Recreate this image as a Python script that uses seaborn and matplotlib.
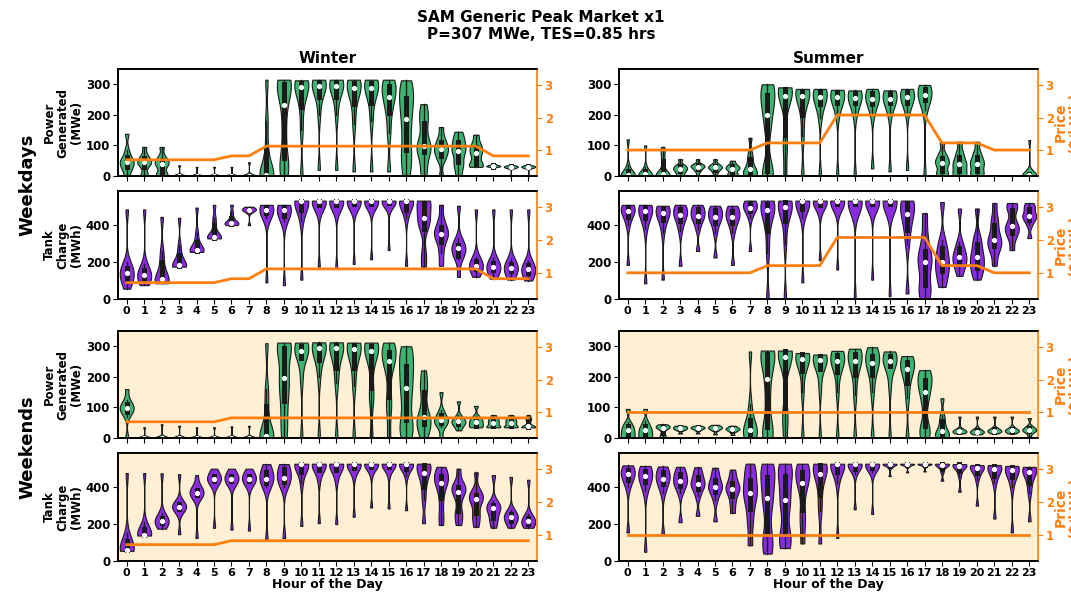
import numpy as np
import pandas as pd
import matplotlib
matplotlib.use("Agg")
import matplotlib.pyplot as plt
import seaborn as sns

# ---------------- data ----------------
hours = list(range(24))

# each violin: nine sample values [min, p12.5, q1, p37.5, median, p62.5, q3, p87.5, max]
wd_winter_power = [
    [0, 20, 30, 40, 46, 52, 62, 85, 138],
    [0, 5, 30, 40, 45, 50, 58, 70, 95],
    [0, 0, 10, 30, 40, 45, 52, 65, 95],
    [0, 0, 0, 0, 0, 0, 0, 2, 35],
    [0, 0, 0, 0, 0, 0, 0, 2, 30],
    [0, 0, 0, 0, 0, 0, 0, 2, 30],
    [0, 0, 0, 0, 0, 0, 0, 2, 30],
    [0, 0, 0, 0, 0, 0, 0, 2, 45],
    [0, 0, 0, 0, 3, 20, 90, 180, 315],
    [0, 30, 60, 150, 232, 280, 300, 310, 315],
    [0, 150, 225, 270, 290, 298, 305, 310, 313],
    [20, 200, 260, 285, 295, 302, 308, 312, 315],
    [20, 200, 258, 285, 295, 302, 308, 312, 315],
    [15, 170, 235, 270, 288, 298, 305, 311, 315],
    [15, 180, 240, 272, 288, 298, 305, 311, 315],
    [15, 140, 205, 240, 260, 280, 295, 308, 315],
    [0, 50, 85, 140, 185, 225, 255, 285, 313],
    [0, 40, 80, 90, 98, 130, 175, 200, 235],
    [0, 50, 65, 80, 87, 95, 110, 125, 160],
    [0, 30, 45, 70, 83, 95, 110, 125, 145],
    [30, 35, 38, 60, 75, 85, 95, 110, 135],
    [25, 30, 31, 32, 33, 34, 35, 37, 40],
    [0, 27, 28, 29, 30, 31, 32, 33, 35],
    [0, 27, 28, 29, 30, 31, 32, 33, 35],
]
wd_winter_tank = [
    [56, 90, 110, 128, 142, 155, 170, 200, 485],
    [75, 100, 112, 122, 130, 140, 155, 190, 485],
    [85, 92, 100, 104, 108, 140, 200, 260, 445],
    [175, 178, 180, 180, 182, 200, 240, 290, 440],
    [255, 258, 260, 262, 265, 280, 310, 360, 495],
    [328, 330, 333, 335, 338, 360, 400, 440, 510],
    [400, 405, 408, 410, 412, 425, 440, 470, 510],
    [400, 470, 478, 482, 484, 486, 490, 495, 500],
    [90, 440, 465, 478, 484, 490, 498, 505, 510],
    [75, 420, 450, 470, 480, 490, 500, 505, 510],
    [105, 420, 480, 515, 530, 532, 533, 533, 533],
    [175, 470, 510, 525, 532, 533, 533, 533, 533],
    [165, 470, 510, 525, 532, 533, 533, 533, 533],
    [190, 480, 515, 527, 532, 533, 533, 533, 533],
    [215, 485, 515, 527, 532, 533, 533, 533, 533],
    [265, 495, 520, 530, 533, 533, 533, 533, 533],
    [180, 440, 480, 515, 530, 533, 533, 533, 533],
    [175, 250, 380, 415, 438, 470, 520, 533, 533],
    [180, 250, 310, 335, 353, 370, 390, 430, 510],
    [120, 215, 235, 260, 275, 285, 295, 330, 505],
    [120, 150, 165, 175, 180, 190, 205, 230, 485],
    [110, 140, 155, 168, 175, 183, 195, 220, 485],
    [105, 135, 150, 163, 170, 178, 190, 215, 485],
    [100, 125, 142, 153, 160, 170, 182, 205, 485],
]
wd_summer_power = [
    [0, 0, 0, 2, 3, 8, 15, 35, 120],
    [0, 0, 1, 3, 5, 8, 15, 30, 100],
    [0, 0, 1, 3, 5, 20, 50, 75, 95],
    [0, 8, 15, 20, 24, 28, 32, 38, 55],
    [0, 15, 22, 28, 31, 33, 36, 40, 55],
    [0, 12, 20, 25, 28, 31, 34, 40, 55],
    [0, 5, 10, 20, 24, 28, 32, 38, 50],
    [0, 3, 8, 15, 22, 35, 55, 75, 125],
    [0, 5, 15, 150, 200, 240, 265, 285, 300],
    [0, 80, 135, 230, 262, 275, 285, 288, 290],
    [0, 130, 200, 245, 262, 270, 278, 283, 285],
    [0, 190, 235, 250, 258, 268, 278, 283, 285],
    [0, 200, 240, 252, 258, 266, 275, 280, 282],
    [0, 200, 240, 250, 256, 264, 272, 278, 280],
    [25, 200, 235, 247, 252, 262, 272, 280, 285],
    [15, 200, 238, 247, 252, 260, 270, 277, 280],
    [20, 210, 240, 252, 258, 266, 275, 282, 285],
    [0, 215, 248, 258, 265, 275, 285, 292, 298],
    [0, 5, 15, 35, 42, 50, 60, 75, 110],
    [0, 5, 15, 30, 38, 48, 62, 80, 112],
    [0, 5, 15, 32, 40, 50, 62, 80, 112],
    [0, 0, 0, 0, 0, 0, 0, 1, 3],
    [0, 0, 0, 0, 0, 0, 0, 1, 3],
    [0, 0, 1, 2, 3, 4, 5, 8, 118],
]
wd_summer_tank = [
    [185, 400, 445, 465, 478, 488, 497, 505, 510],
    [85, 380, 440, 462, 478, 488, 497, 505, 510],
    [105, 360, 430, 452, 464, 478, 492, 500, 505],
    [180, 370, 420, 445, 456, 470, 490, 502, 510],
    [260, 380, 420, 440, 451, 465, 485, 500, 510],
    [225, 360, 410, 432, 444, 458, 480, 495, 505],
    [185, 360, 410, 432, 444, 458, 478, 493, 505],
    [260, 440, 478, 490, 495, 505, 520, 530, 533],
    [0, 250, 370, 450, 480, 495, 515, 528, 533],
    [0, 300, 420, 480, 496, 510, 525, 530, 533],
    [90, 440, 490, 515, 530, 533, 533, 533, 533],
    [210, 470, 510, 525, 532, 533, 533, 533, 533],
    [160, 480, 515, 527, 532, 533, 533, 533, 533],
    [0, 480, 515, 527, 532, 533, 533, 533, 533],
    [105, 485, 517, 528, 532, 533, 533, 533, 533],
    [15, 485, 517, 528, 532, 533, 533, 533, 533],
    [30, 300, 375, 430, 460, 490, 520, 533, 533],
    [0, 40, 75, 150, 198, 230, 260, 350, 465],
    [65, 110, 150, 180, 202, 235, 275, 320, 525],
    [125, 165, 195, 212, 225, 245, 275, 310, 490],
    [105, 150, 170, 205, 225, 255, 300, 340, 490],
    [180, 250, 285, 305, 320, 350, 400, 440, 520],
    [265, 330, 360, 380, 393, 420, 480, 505, 520],
    [330, 400, 430, 442, 451, 465, 490, 505, 520],
]
we_winter_power = [
    [0, 70, 85, 93, 98, 103, 110, 125, 160],
    [0, 0, 0, 0, 0, 0, 0, 2, 35],
    [0, 0, 0, 0, 0, 0, 0, 2, 45],
    [0, 0, 0, 0, 0, 0, 0, 2, 40],
    [0, 0, 0, 0, 0, 0, 0, 2, 35],
    [0, 0, 0, 0, 0, 0, 0, 2, 35],
    [0, 0, 0, 0, 0, 0, 0, 2, 38],
    [0, 0, 0, 0, 0, 0, 0, 2, 40],
    [0, 0, 0, 2, 5, 30, 105, 160, 310],
    [0, 60, 120, 170, 196, 250, 295, 308, 312],
    [0, 190, 262, 278, 286, 295, 302, 308, 312],
    [0, 200, 255, 280, 293, 300, 305, 310, 313],
    [0, 180, 230, 272, 293, 300, 305, 310, 313],
    [0, 170, 230, 268, 291, 298, 303, 309, 312],
    [0, 120, 165, 250, 284, 293, 300, 307, 312],
    [0, 90, 135, 220, 253, 270, 280, 300, 312],
    [0, 30, 60, 120, 162, 200, 235, 270, 300],
    [0, 25, 45, 58, 68, 100, 150, 180, 221],
    [0, 35, 48, 54, 58, 63, 75, 90, 150],
    [25, 38, 45, 50, 54, 58, 63, 75, 120],
    [35, 37, 40, 48, 53, 58, 63, 72, 105],
    [35, 36, 38, 45, 50, 55, 60, 65, 75],
    [35, 36, 38, 45, 50, 55, 60, 65, 75],
    [35, 35, 36, 37, 38, 50, 60, 65, 75],
]
we_winter_tank = [
    [55, 58, 60, 61, 62, 80, 110, 150, 476],
    [138, 139, 140, 141, 142, 155, 175, 210, 476],
    [175, 195, 205, 212, 218, 225, 235, 260, 475],
    [145, 270, 282, 290, 295, 300, 308, 320, 470],
    [125, 345, 358, 366, 371, 376, 384, 398, 465],
    [180, 420, 432, 440, 445, 450, 458, 470, 500],
    [170, 420, 432, 440, 445, 450, 458, 470, 500],
    [165, 420, 432, 440, 445, 450, 458, 470, 500],
    [110, 400, 425, 437, 445, 460, 480, 505, 525],
    [125, 400, 430, 442, 449, 470, 500, 515, 525],
    [190, 420, 480, 510, 524, 527, 527, 527, 527],
    [205, 440, 495, 515, 525, 527, 527, 527, 527],
    [200, 440, 495, 515, 525, 527, 527, 527, 527],
    [240, 460, 505, 518, 525, 527, 527, 527, 527],
    [290, 470, 510, 520, 526, 527, 527, 527, 527],
    [285, 470, 510, 520, 526, 527, 527, 527, 527],
    [275, 460, 500, 515, 525, 527, 527, 527, 527],
    [205, 330, 400, 450, 478, 500, 520, 527, 527],
    [195, 260, 340, 400, 425, 445, 460, 490, 510],
    [195, 240, 270, 340, 376, 390, 400, 420, 500],
    [185, 230, 260, 310, 335, 345, 360, 385, 480],
    [180, 215, 235, 270, 285, 293, 302, 325, 465],
    [180, 205, 218, 232, 240, 248, 257, 275, 455],
    [180, 190, 198, 210, 218, 225, 235, 255, 440],
]
we_summer_power = [
    [0, 3, 8, 18, 25, 32, 40, 52, 95],
    [0, 3, 8, 18, 25, 32, 40, 55, 95],
    [0, 5, 15, 28, 33, 36, 38, 41, 45],
    [15, 25, 28, 30, 32, 34, 36, 38, 40],
    [15, 25, 29, 31, 33, 34, 36, 38, 40],
    [12, 24, 28, 31, 33, 35, 37, 40, 43],
    [10, 20, 24, 27, 29, 31, 33, 36, 40],
    [0, 5, 12, 20, 27, 40, 60, 110, 283],
    [0, 15, 35, 120, 192, 240, 275, 283, 286],
    [0, 60, 95, 220, 266, 276, 283, 285, 286],
    [0, 150, 218, 245, 260, 268, 275, 277, 278],
    [0, 160, 225, 245, 254, 262, 268, 271, 273],
    [0, 150, 215, 240, 252, 262, 270, 278, 285],
    [0, 140, 205, 238, 252, 265, 275, 285, 292],
    [0, 150, 205, 235, 246, 258, 268, 285, 297],
    [0, 170, 235, 245, 251, 258, 268, 277, 283],
    [0, 130, 180, 212, 226, 238, 250, 260, 268],
    [0, 20, 40, 110, 149, 170, 190, 210, 222],
    [0, 3, 8, 15, 22, 35, 55, 75, 130],
    [15, 18, 20, 21, 22, 24, 26, 32, 70],
    [12, 16, 18, 19, 21, 23, 26, 32, 70],
    [15, 19, 21, 23, 24, 26, 29, 34, 70],
    [15, 19, 21, 23, 25, 27, 30, 36, 70],
    [5, 18, 22, 25, 27, 30, 34, 40, 65],
]
we_summer_tank = [
    [155, 400, 440, 458, 469, 480, 495, 508, 518],
    [50, 380, 430, 448, 458, 470, 488, 503, 515],
    [140, 370, 415, 435, 445, 460, 480, 498, 512],
    [210, 370, 405, 422, 433, 448, 470, 490, 510],
    [245, 350, 390, 408, 418, 432, 455, 480, 508],
    [215, 330, 375, 392, 402, 415, 440, 470, 505],
    [260, 310, 350, 378, 391, 405, 425, 455, 495],
    [85, 200, 280, 340, 367, 400, 440, 490, 527],
    [40, 90, 155, 280, 340, 400, 455, 500, 527],
    [70, 110, 160, 280, 331, 400, 460, 505, 527],
    [95, 200, 275, 380, 425, 455, 480, 510, 527],
    [95, 270, 360, 440, 470, 495, 520, 527, 527],
    [125, 420, 480, 510, 524, 527, 527, 527, 527],
    [280, 470, 500, 515, 524, 527, 527, 527, 527],
    [255, 480, 505, 518, 525, 527, 527, 527, 527],
    [460, 505, 515, 520, 524, 526, 527, 527, 527],
    [480, 510, 518, 522, 525, 526, 527, 527, 527],
    [485, 510, 518, 522, 525, 526, 527, 527, 527],
    [435, 480, 500, 512, 520, 524, 527, 527, 527],
    [375, 460, 490, 505, 515, 520, 523, 525, 525],
    [300, 440, 475, 495, 504, 510, 515, 518, 520],
    [230, 420, 460, 485, 500, 508, 514, 518, 520],
    [155, 400, 455, 480, 493, 502, 508, 512, 515],
    [215, 370, 420, 460, 480, 490, 500, 506, 510],
]

price_wd_winter = [0.70, 0.70, 0.70, 0.70, 0.70, 0.70, 0.82, 0.82, 1.12, 1.12, 1.12, 1.12,
                   1.12, 1.12, 1.12, 1.12, 1.12, 1.12, 1.12, 1.12, 1.12, 0.82, 0.82, 0.82]
price_wd_summer = [1.00, 1.00, 1.00, 1.00, 1.00, 1.00, 1.00, 1.00, 1.22, 1.22, 1.22, 1.22,
                   2.08, 2.08, 2.08, 2.08, 2.08, 2.08, 1.22, 1.22, 1.22, 1.00, 1.00, 1.00]
price_we_winter = [0.70, 0.70, 0.70, 0.70, 0.70, 0.70, 0.82, 0.82, 0.82, 0.82, 0.82, 0.82,
                   0.82, 0.82, 0.82, 0.82, 0.82, 0.82, 0.82, 0.82, 0.82, 0.82, 0.82, 0.82]
price_we_summer = [1.00, 1.00, 1.00, 1.00, 1.00, 1.00, 1.00, 1.00, 1.00, 1.00, 1.00, 1.00,
                   1.00, 1.00, 1.00, 1.00, 1.00, 1.00, 1.00, 1.00, 1.00, 1.00, 1.00, 1.00]

title_text = "SAM Generic Peak Market x1\nP=307 MWe, TES=0.85 hrs"
season_titles = ["Winter", "Summer"]
daytype_labels = ["Weekdays", "Weekends"]

# ---------------- style ----------------
plt.rcParams["font.family"] = ["DejaVu Sans"]
plt.rcParams["font.weight"] = "bold"
plt.rcParams["axes.labelweight"] = "bold"
plt.rcParams["axes.titleweight"] = "bold"
plt.rcParams["axes.linewidth"] = 1.2

GREEN = "#3CB371"
PURPLE = "#8A2BE2"
ORANGE = "#FF7F0E"
WEEKEND_BG = "#FFEFD5"

W, H = 1071, 595
fig = plt.figure(figsize=(W / 100, H / 100), dpi=100)

col_x = [118 / W, 619 / W]
col_w = 419 / W
row_px = [(69, 176), (191, 299), (331, 438), (453, 561)]


def long_df(samples):
    hrs, vals = [], []
    for h, s in zip(hours, samples):
        hrs += [h] * len(s)
        vals += list(s)
    return pd.DataFrame({"hour": hrs, "value": vals})


panels = {
    (0, 0): (wd_winter_power, "power", price_wd_winter),
    (1, 0): (wd_winter_tank, "tank", price_wd_winter),
    (0, 1): (wd_summer_power, "power", price_wd_summer),
    (1, 1): (wd_summer_tank, "tank", price_wd_summer),
    (2, 0): (we_winter_power, "power", price_we_winter),
    (3, 0): (we_winter_tank, "tank", price_we_winter),
    (2, 1): (we_summer_power, "power", price_we_summer),
    (3, 1): (we_summer_tank, "tank", price_we_summer),
}

for (r, c), (samples, kind, price) in panels.items():
    top, bot = row_px[r]
    ax = fig.add_axes([col_x[c], 1 - bot / H, col_w, (bot - top) / H])
    if r >= 2:
        ax.set_facecolor(WEEKEND_BG)
    df = long_df(samples)
    sns.violinplot(data=df, x="hour", y="value", ax=ax,
                   color=GREEN if kind == "power" else PURPLE, saturation=1,
                   density_norm="width", cut=0, inner="box", width=0.8,
                   linecolor="#1a1a1a", linewidth=0.8, bw_adjust=0.55,
                   inner_kws=dict(box_width=3.6, whis_width=1.0, marker="o"))
    ax.set_xlim(-0.5, 23.5)
    if kind == "power":
        ax.set_ylim(0, 350)
        ax.set_yticks([0, 100, 200, 300])
        ylab = "Power\nGenerated\n(MWe)"
    else:
        ax.set_ylim(0, 585)
        ax.set_yticks([0, 200, 400])
        ylab = "Tank\nCharge\n(MWh)"
    ax.set_ylabel(ylab if c == 0 else "", fontsize=8.5, fontweight="bold",
                  labelpad=2, linespacing=1.05)
    ax.tick_params(axis="y", labelsize=8.5, pad=2)
    ax.tick_params(axis="x", labelsize=8, pad=1.5)
    if r in (0, 2):
        ax.tick_params(axis="x", labelbottom=False)
        ax.set_xlabel("")
    else:
        ax.set_xlabel("Hour of the Day" if r == 3 else "", fontsize=9,
                      fontweight="bold", labelpad=0)
    ax.spines["right"].set_visible(False)
    if r == 0:
        ax.set_title(season_titles[c], fontsize=11, fontweight="bold", pad=4)

    ax2 = ax.twinx()
    ax2.plot(hours, price, color=ORANGE, lw=2)
    ax2.set_ylim(0.2, 3.5)
    ax2.set_yticks([1, 2, 3])
    ax2.tick_params(axis="y", colors=ORANGE, labelsize=8.5, pad=2)
    ax2.spines["right"].set_color(ORANGE)
    if c == 1:
        ax2.set_ylabel("Price\n($/kWh)", color=ORANGE, fontsize=10,
                       fontweight="bold", labelpad=0, linespacing=1.0)

fig.text(0.505, 1 - 10 / H, title_text, ha="center", va="top", fontsize=11,
         fontweight="bold", linespacing=1.2)
fig.text(27 / W, 1 - 185 / H, daytype_labels[0], rotation=90, ha="center",
         va="center", fontsize=13, fontweight="bold")
fig.text(27 / W, 1 - 447 / H, daytype_labels[1], rotation=90, ha="center",
         va="center", fontsize=13, fontweight="bold")

fig.savefig("out.png", dpi=100)
